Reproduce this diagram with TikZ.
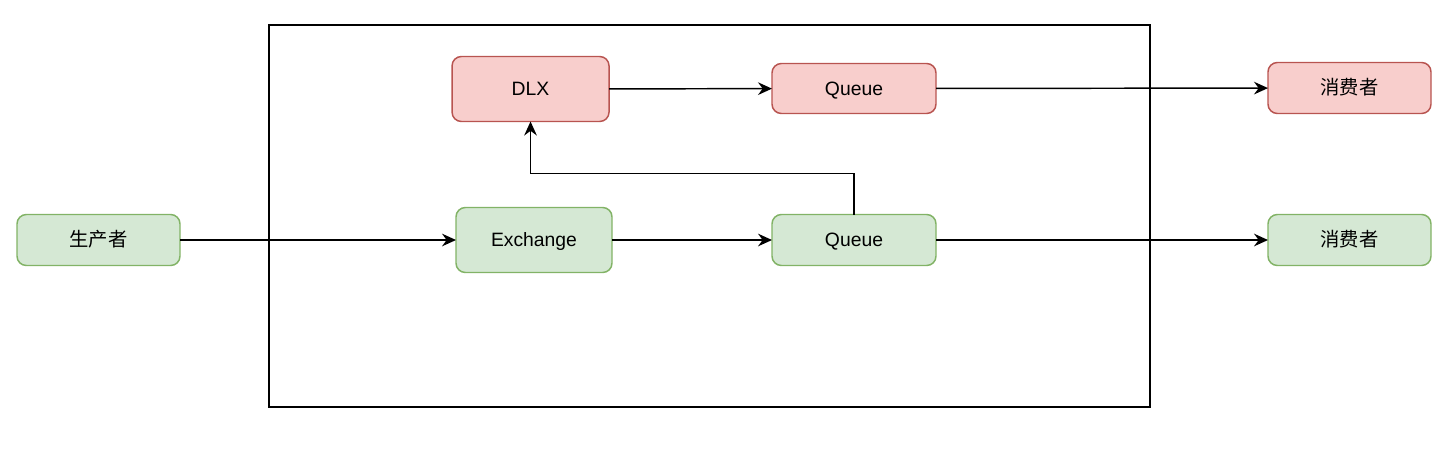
\documentclass[tikz,border=0pt]{standalone}
\usepackage{fontspec}
\setmainfont{Liberation Sans}
\newfontfamily\cjk{Noto Sans CJK SC}
\usepackage{tikz}
\usetikzlibrary{arrows.meta,positioning,calc}
\definecolor{softGreen}{HTML}{D5E8D4}
\definecolor{deepGreen}{HTML}{82B366}
\definecolor{softRed}{HTML}{F8CECC}
\definecolor{deepRed}{HTML}{B85450}

\begin{document}
\begin{tikzpicture}[x=0.75pt, y=-0.75pt, >={Stealth[length=10.5pt,width=9.5pt,inset=3.5pt]},
    line width=1.1pt, font=\fontsize{14.5pt}{17pt}\selectfont,
    greenbox/.style={draw=deepGreen, fill=softGreen, rectangle, rounded corners=7pt, align=center,
      inner sep=0pt, outer sep=0pt, text height=10.4pt, text depth=0pt},
    redbox/.style={draw=deepRed, fill=softRed, rectangle, rounded corners=7pt, align=center,
      inner sep=0pt, outer sep=0pt, text height=10.4pt, text depth=0pt}]
    \useasboundingbox (0,0) rectangle (1450,451);

    % broker frame
    \draw (269,25) rectangle (1150,407);

    \node[greenbox, minimum width=122.25pt, minimum height=38.25pt] (PROD) at (98.5,240) {\cjk 生产者};
    \node[greenbox, minimum width=117pt, minimum height=48.75pt, right=207pt of PROD] (EX) {Exchange};
    \node[greenbox, minimum width=123pt, minimum height=38.25pt, right=120pt of EX] (QG) {Queue};
    \node[greenbox, minimum width=122.25pt, minimum height=38.25pt, right=249pt of QG] (CONG) {\cjk 消费者};

    \node[redbox, minimum width=117.75pt, minimum height=48.75pt, above=64.5pt of EX, xshift=-2.6pt] (DLX) {DLX};
    \node[redbox, minimum width=123pt, minimum height=37.5pt, above=75.75pt of QG] (QR) {Queue};
    \node[redbox, minimum width=122.25pt, minimum height=38.25pt, above=75.75pt of CONG] (CONR) {\cjk 消费者};

    \draw[->] (PROD) -- (EX);
    \draw[->] (EX) -- (QG);
    \draw[->] (QG) -- (CONG);
    \draw[->] (QG.north) -- ++(0,-41) -| (DLX.south);
    \draw[->] (DLX) -- (QR);
    \draw[->] (QR) -- (CONR);
  \end{tikzpicture}
\end{document}
